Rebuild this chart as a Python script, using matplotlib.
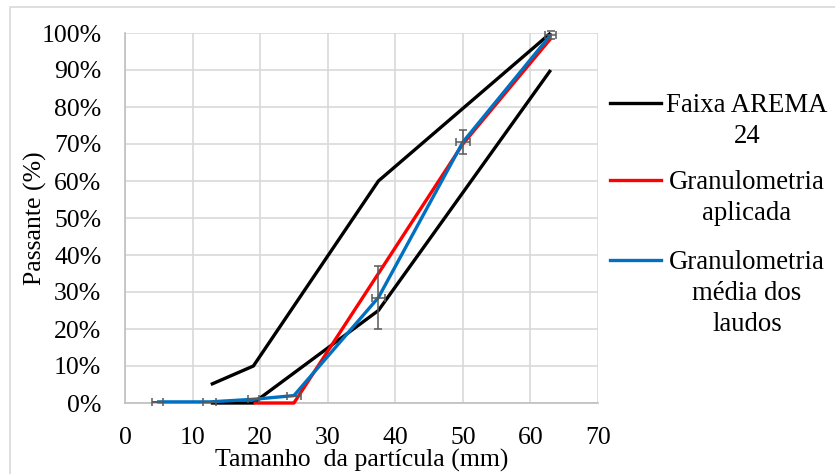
import matplotlib
matplotlib.use("Agg")
import matplotlib.pyplot as plt
from matplotlib.lines import Line2D
from matplotlib.patches import Rectangle

plt.rcParams['font.family'] = ['Liberation Serif', 'DejaVu Serif']

# AREMA 24 gradation band (upper and lower limits)
arema_x = [12.7, 19, 37.5, 63]
arema_upper = [5, 10, 60, 100]
arema_lower = [0, 0, 25, 90]

# Applied gradation
aplicada_x = [19, 25, 37.5, 50, 63]
aplicada_y = [0, 0, 35, 70, 98.5]

# Mean gradation of the reports, with spread
media_x = [4.75, 12.5, 19, 25, 37.5, 50, 63]
media_y = [0.3, 0.3, 1.0, 2.0, 28.5, 70.5, 99.5]
media_xerr = [0.8, 1.0, 0.8, 1.0, 1.0, 1.0, 0.8]
media_yerr = [0.0, 0.0, 0.0, 0.0, 8.5, 3.2, 1.0]

legend_labels = ["Faixa AREMA\n24", "Granulometria\naplicada", "Granulometria\nmédia dos\nlaudos"]

W, H = 835, 474
fig = plt.figure(figsize=(W / 100, H / 100), dpi=100)

def fx(px):
    return px / W

def fy(py):
    return 1 - py / H

ax = fig.add_axes([fx(125), fy(403), fx(598) - fx(125), fy(33) - fy(403)])

lw = 2.4
ax.plot(arema_x, arema_upper, color='black', lw=lw, solid_capstyle='butt', zorder=3)
ax.plot(arema_x, arema_lower, color='black', lw=lw, solid_capstyle='butt', zorder=3)
ax.plot(aplicada_x, aplicada_y, color='#FF0000', lw=lw, solid_capstyle='butt', zorder=4)
ax.plot(media_x, media_y, color='#0070C0', lw=lw, solid_capstyle='butt', zorder=5)
ax.errorbar(media_x, media_y, xerr=media_xerr, yerr=media_yerr, fmt='none',
            ecolor='#595959', elinewidth=1.1, capsize=3, capthick=1.1, zorder=6)

ax.set_xlim(0, 70)
ax.set_ylim(0, 100)
ax.set_xticks(range(0, 71, 10))
ax.set_yticks(range(0, 101, 10))
ax.set_yticklabels([f"{v}%" for v in range(0, 101, 10)])
ax.tick_params(length=0, labelsize=18.5, colors='black')
ax.tick_params(axis='y', pad=17)
ax.tick_params(axis='x', pad=17)
ax.grid(True, color='#D9D9D9', lw=1.2)
ax.set_axisbelow(True)
for s in ['top', 'right']:
    ax.spines[s].set_visible(False)
for s in ['left', 'bottom']:
    ax.spines[s].set_color('#BFBFBF')
    ax.spines[s].set_linewidth(1.2)
for l in ax.get_children():
    if isinstance(l, Line2D):
        l.set_clip_on(False)

ax.set_xlabel("Tamanho  da partícula (mm)", fontsize=18.5, labelpad=0)
ax.set_ylabel("Passante (%)", fontsize=18.5, labelpad=-4)

# legend drawn at the right side
entries = [
    ('black', 103, legend_labels[0]),
    ('#FF0000', 180, legend_labels[1]),
    ('#0070C0', 260, legend_labels[2]),
]
for color, ypx, label in entries:
    fig.add_artist(Line2D([fx(610), fx(661)], [fy(ypx), fy(ypx)], color=color,
                          lw=2.4, transform=fig.transFigure))
    fig.text(fx(747), fy(ypx - 10), label, ha='center', va='top', fontsize=19.3,
             linespacing=1.32, multialignment='center')

# outer frame (extends past the right and bottom edges)
fig.add_artist(Rectangle((fx(10), fy(490)), fx(850) - fx(10), fy(7) - fy(490),
                         transform=fig.transFigure, fill=False, edgecolor='#D9D9D9', lw=1.2))

fig.savefig("out.png", dpi=100)
